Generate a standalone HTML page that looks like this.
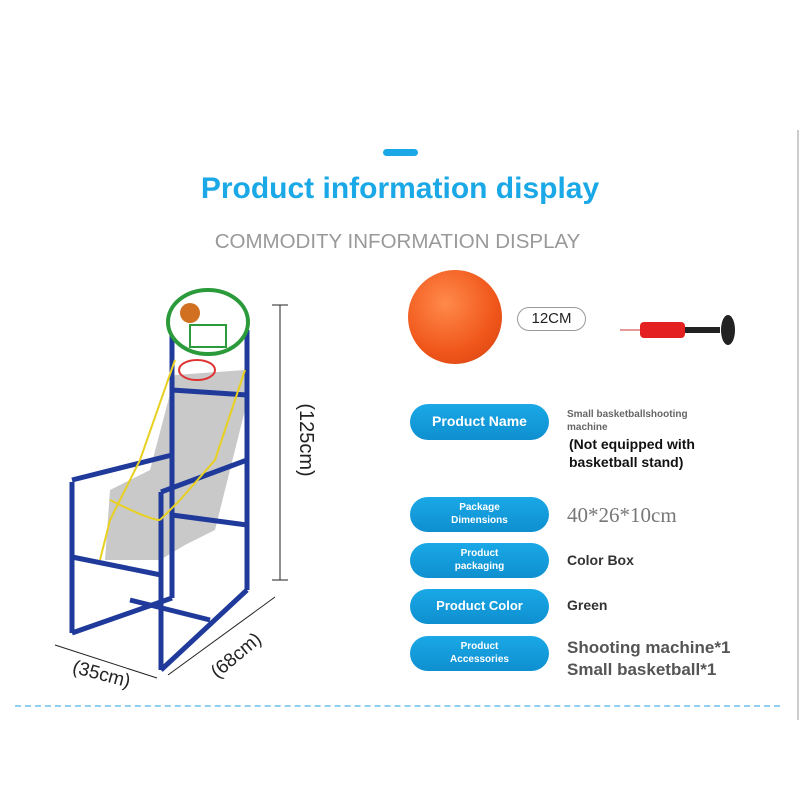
<!DOCTYPE html>
<html><head><style>
body{margin:0;width:800px;height:800px;background:#fff;position:relative;overflow:hidden;font-family:"Liberation Sans",sans-serif}
.a{position:absolute}
.pill{position:absolute;left:410px;width:139px;border-radius:18px;background:linear-gradient(#1aa8e6,#0e8fd0);color:#fff;font-weight:bold;text-align:center;display:flex;align-items:center;justify-content:center;line-height:1.25}
.v{position:absolute;left:567px;font-weight:bold;color:#333}
</style></head><body>
<div class="a" style="left:383px;top:149px;width:35px;height:7px;border-radius:4px;background:#1aa8e6"></div>
<div class="a" style="left:0;width:800px;top:172px;text-align:center;font-size:30px;font-weight:bold;color:#1aa8e6">Product information display</div>
<div class="a" style="left:0;width:795px;top:230px;text-align:center;font-size:20.5px;color:#999">COMMODITY INFORMATION DISPLAY</div>
<div class="a" style="left:797px;top:130px;width:2px;height:590px;background:#ccc"></div>
<div class="a" style="left:408px;top:270px;width:94px;height:94px;border-radius:50%;background:radial-gradient(circle at 40% 35%,#ff8a4a,#f0561a 60%,#d04010)"></div>
<div class="a" style="left:517px;top:307px;width:67px;height:22px;border:1px solid #999;border-radius:12px;font-size:15px;text-align:center;line-height:22px;color:#222">12CM</div>
<svg class="a" style="left:600px;top:300px" width="160" height="60">
<line x1="20" y1="30" x2="40" y2="30" stroke="#c33" stroke-width="1"/>
<rect x="40" y="22" width="45" height="16" rx="4" fill="#e52020"/>
<rect x="85" y="27" width="35" height="6" fill="#222"/>
<ellipse cx="128" cy="30" rx="7" ry="15" fill="#222"/>
</svg>
<svg class="a" style="left:0;top:0" width="400" height="700">
<polygon points="175,375 245,370 245,410 215,530 185,545 160,560 105,560 110,490 150,470" fill="#bbb" opacity=".8"/>
<g stroke="#1f3a9a" stroke-width="5" fill="none">
<line x1="172" y1="330" x2="172" y2="598"/><line x1="247" y1="330" x2="247" y2="590"/>
<line x1="72" y1="482" x2="72" y2="633"/><line x1="161" y1="492" x2="161" y2="670"/>
<line x1="72" y1="480" x2="172" y2="455"/><line x1="161" y1="492" x2="247" y2="460"/>
<line x1="72" y1="557" x2="161" y2="575"/><line x1="172" y1="515" x2="247" y2="525"/>
<line x1="72" y1="633" x2="172" y2="598"/><line x1="161" y1="670" x2="247" y2="590"/>
<line x1="130" y1="600" x2="210" y2="620"/><line x1="172" y1="390" x2="247" y2="395"/>
</g>
<g stroke="#e8d020" stroke-width="2" fill="none">
<path d="M175,360 L140,460 L110,520 L100,560"/><path d="M245,370 L215,460 L180,500 L160,520"/>
<path d="M110,500 Q150,520 160,520"/>
</g>
<ellipse cx="208" cy="322" rx="40" ry="32" fill="#fff" stroke="#2a9a3a" stroke-width="4"/>
<rect x="190" y="325" width="36" height="22" fill="#fff" stroke="#2a9a3a" stroke-width="2"/>
<circle cx="190" cy="313" r="10" fill="#d07020"/>
<ellipse cx="197" cy="370" rx="18" ry="10" fill="none" stroke="#d33" stroke-width="2"/>
<g stroke="#222" stroke-width="1">
<line x1="280" y1="305" x2="280" y2="580"/><line x1="272" y1="305" x2="288" y2="305"/><line x1="272" y1="580" x2="288" y2="580"/>
<line x1="55" y1="645" x2="157" y2="678"/><line x1="168" y1="675" x2="275" y2="597"/>
</g>
<text x="300" y="440" transform="rotate(90 300 440)" font-size="20" text-anchor="middle" fill="#222" font-family="Liberation Sans">(125cm)</text>
<text x="100" y="680" transform="rotate(15 100 680)" font-size="19" text-anchor="middle" fill="#222" font-family="Liberation Sans">(35cm)</text>
<text x="240" y="660" transform="rotate(-40 240 660)" font-size="19" text-anchor="middle" fill="#222" font-family="Liberation Sans">(68cm)</text>
</svg>
<div class="pill" style="top:404px;height:36px;font-size:14px">Product Name</div>
<div class="pill" style="top:497px;height:35px;font-size:10px">Package<br>Dimensions</div>
<div class="pill" style="top:543px;height:35px;font-size:10px">Product<br>packaging</div>
<div class="pill" style="top:589px;height:35px;font-size:13px">Product Color</div>
<div class="pill" style="top:636px;height:35px;font-size:10px">Product<br>Accessories</div>
<div class="v" style="top:408px;font-size:10px;color:#666;line-height:13px">Small basketballshooting<br>machine</div>
<div class="v" style="left:569px;top:435px;font-size:14px;color:#111;line-height:18px">(Not equipped with<br>basketball stand)</div>
<div class="v" style="top:503px;font-size:21px;font-weight:normal;font-family:'Liberation Serif',serif;color:#777">40*26*10cm</div>
<div class="v" style="top:552px;font-size:14px">Color Box</div>
<div class="v" style="top:597px;font-size:14px">Green</div>
<div class="v" style="top:637px;font-size:17px;color:#555;line-height:22px">Shooting machine*1<br>Small basketball*1</div>
<div class="a" style="left:15px;top:705px;width:765px;border-top:2px dashed #8fd0f0"></div>
</body></html>
